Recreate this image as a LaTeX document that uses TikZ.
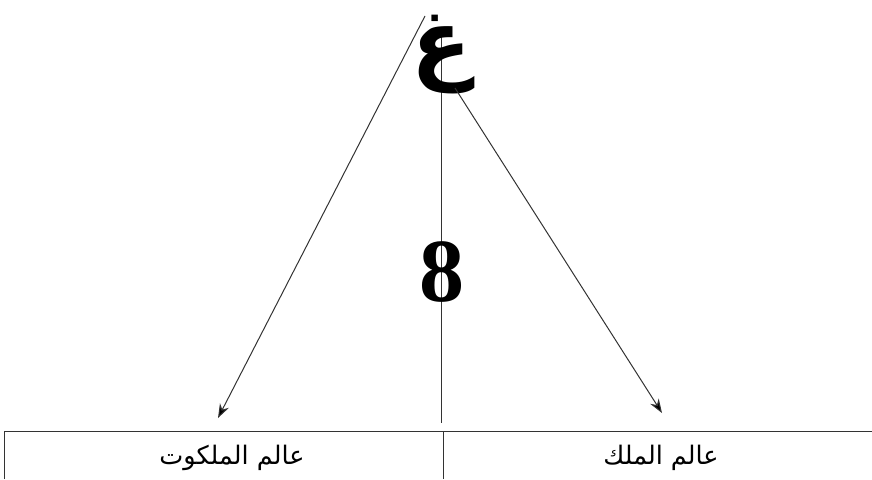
\documentclass[tikz,border=0pt]{standalone}
\usepackage{fontspec}
\TeXXeTstate=1
\newfontfamily\arabicfont[Script=Arabic]{DejaVu Sans}
\newfontfamily\numfont{Liberation Serif}
\usetikzlibrary{arrows.meta}
\tikzset{
  conn/.style={draw=black!80, line width=1pt},
  arr/.style={conn, -{Stealth[length=14pt,width=10pt,fill=black]}},
  lbl/.style={font=\arabicfont\fontsize{25.5}{30}\selectfont, inner sep=0pt},
}
\begin{document}
\begin{tikzpicture}[x=1pt,y=-1pt]
\useasboundingbox (0,0) rectangle (872,479);
% vertical axis
\coordinate (vtop) at (441,28);
\coordinate (vbot) at (441,423);
\draw[conn] (vtop) -- (vbot);
% big letter
\node[font=\arabicfont\bfseries\fontsize{88}{92}\selectfont, inner sep=0pt] (ghain) at (442,55) {\beginR غ\endR};
% number
\node[font=\numfont\bfseries\fontsize{90}{92}\selectfont, inner sep=0pt] (eight) at (442,272) {8};
% arrows
\coordinate (ltop) at (425,16);
\coordinate (rtop) at (455,88);
\coordinate (lend) at (218,418);
\coordinate (rend) at (662,413);
\draw[arr] (ltop) -- (lend);
\draw[arr] (rtop) -- (rend);
% table
\coordinate (tl) at (4,431);
\coordinate (bl) at (4,479);
\coordinate (tr) at (872,431);
\coordinate (mt) at (443,431);
\coordinate (mb) at (443,479);
\draw[conn] (bl) -- (tl) -- (tr);
\draw[conn] (mt) -- (mb);
\node[lbl] (malakut) at (232,458) {\beginR عالم الملكوت\endR};
\node[lbl] (mulk) at (661,458) {\beginR عالم الملك\endR};
\end{tikzpicture}
\end{document}
